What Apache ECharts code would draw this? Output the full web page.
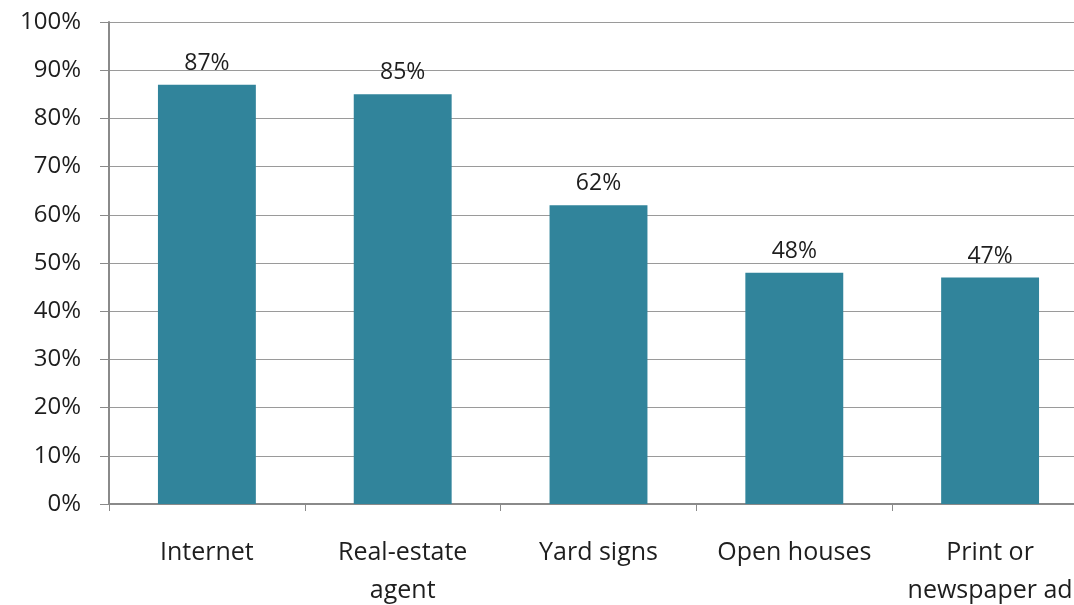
<!DOCTYPE html>
<html><head><meta charset="utf-8">
<script src="https://cdn.jsdelivr.net/npm/echarts@6/dist/echarts.min.js"></script>
<style>html,body{margin:0;padding:0;background:#fff;overflow:hidden}#c{width:1074px;height:605px}</style>
</head><body><div id="c"></div>
<script>
const categories = ["Internet", "Real-estate\nagent", "Yard signs", "Open houses", "Print or\nnewspaper ad"];
const values = [87, 85, 62, 48, 47];
const yTicks = { min: 0, max: 100, interval: 10 };
const FONT = "Open Sans";
const chart = echarts.init(document.getElementById('c'));
chart.setOption({
  animation: false,
  textStyle: { fontFamily: FONT },
  grid: { left: 109, right: -14, top: 22, bottom: 101, containLabel: false, outerBoundsMode: 'none' },
  xAxis: {
    type: 'category', data: categories,
    axisLine: { lineStyle: { color: '#8a8a8a', width: 2 } },
    axisTick: { show: true, length: 7, alignWithLabel: false, lineStyle: { color: '#8a8a8a', width: 1 } },
    axisLabel: { color: '#1e1e1e', fontSize: 25, fontFamily: FONT, margin: 30, lineHeight: 38, interval: 0 }
  },
  yAxis: {
    type: 'value', min: yTicks.min, max: yTicks.max, interval: yTicks.interval,
    axisLine: { show: true, lineStyle: { color: '#8a8a8a', width: 2 } },
    axisTick: { show: true, length: 9, lineStyle: { color: '#8a8a8a' } },
    axisLabel: { color: '#1e1e1e', fontSize: 24, fontFamily: FONT, margin: 28, formatter: '{value}%' },
    splitLine: { show: true, lineStyle: { color: '#9a9a9a', width: 1 } }
  },
  series: [{
    type: 'bar', data: values, barWidth: '50%',
    itemStyle: { color: '#31849b' },
    label: { show: true, position: 'top', distance: 10, formatter: '{c}%', color: '#1e1e1e', fontSize: 23, fontFamily: FONT }
  }]
});
</script></body></html>
